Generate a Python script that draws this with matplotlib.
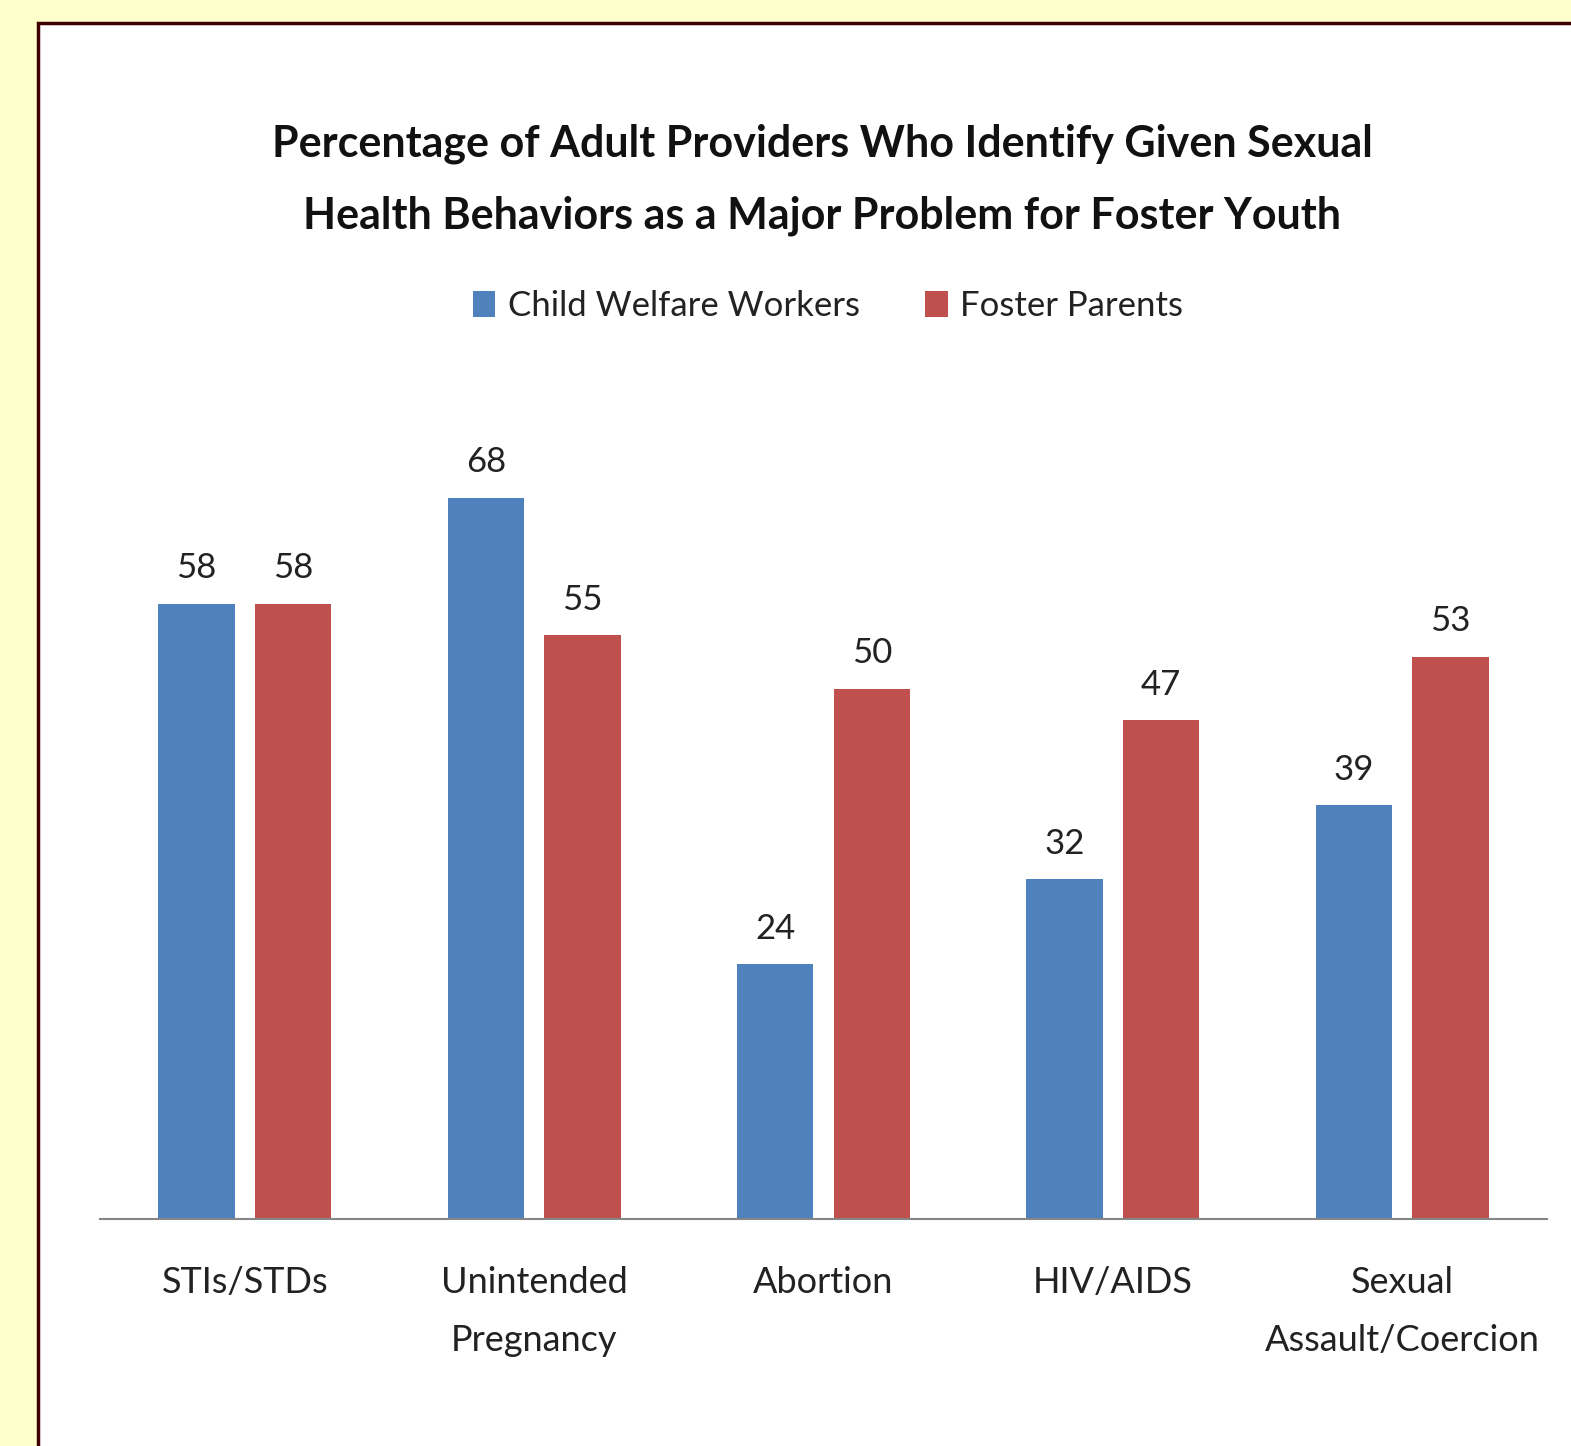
import matplotlib as mpl
import matplotlib.pyplot as plt
from matplotlib.patches import Rectangle
import numpy as np

mpl.rcParams['font.family'] = ['Lato', 'DejaVu Sans']

categories = ['STIs/STDs', 'Unintended\nPregnancy', 'Abortion', 'HIV/AIDS', 'Sexual\nAssault/Coercion']
welfare = [58, 68, 24, 32, 39]
foster = [58, 55, 50, 47, 53]
series_names = ['Child Welfare Workers', 'Foster Parents']
title = 'Percentage of Adult Providers Who Identify Given Sexual\nHealth Behaviors as a Major Problem for Foster Youth'

BLUE = '#4F81BD'
RED = '#C0504D'
W, H = 1571, 1446

fig = plt.figure(figsize=(W / 100, H / 100), dpi=100)
fig.patch.set_facecolor('#FFFFCC')

# white panel with dark border (left/top edges visible)
panel = Rectangle((38 / W, 0 - 0.01), 1.05, 1 - 23 / H + 0.01, transform=fig.transFigure,
                  facecolor='white', edgecolor='#3F0000', linewidth=2.5, zorder=-10)
fig.patches.append(panel)

ax = fig.add_axes([100 / W, 1 - 1219 / H, 1447 / W, 850 / H])
ax.set_facecolor('none')

x = np.arange(len(categories))
bw = 0.264
off = 0.1667
b1 = ax.bar(x - off, welfare, bw, color=BLUE, label=series_names[0])
b2 = ax.bar(x + off, foster, bw, color=RED, label=series_names[1])

for bars, vals in ((b1, welfare), (b2, foster)):
    for b, v in zip(bars, vals):
        ax.annotate(str(v), (b.get_x() + b.get_width() / 2, v), xytext=(0, 14),
                    textcoords='offset points', ha='center', va='bottom',
                    fontsize=25, color='#222222')

ax.set_xlim(-0.5, 4.5)
ax.set_ylim(0, 850 / 10.61)
ax.set_xticks(x)
ax.set_xticklabels(categories, fontsize=26, color='#222222', linespacing=1.9)
ax.tick_params(axis='x', length=0, pad=34)
ax.set_yticks([])
for s in ['top', 'right', 'left']:
    ax.spines[s].set_visible(False)
ax.spines['bottom'].set_color('#868686')
ax.spines['bottom'].set_linewidth(1.5)

fig.text(822 / W, 1 - 180 / H, title, ha='center', va='center', fontsize=31,
         fontweight='bold', color='#111111', linespacing=1.95)

leg = fig.legend(handles=[b1, b2], labels=series_names, loc='center',
                 bbox_to_anchor=(828 / W, 1 - 306 / H), ncol=2, frameon=False,
                 fontsize=25, handlelength=0.65, handleheight=0.75, handletextpad=0.35,
                 columnspacing=1.9)
for t in leg.get_texts():
    t.set_color('#222222')

fig.savefig('out.png', dpi=100, facecolor=fig.get_facecolor())
